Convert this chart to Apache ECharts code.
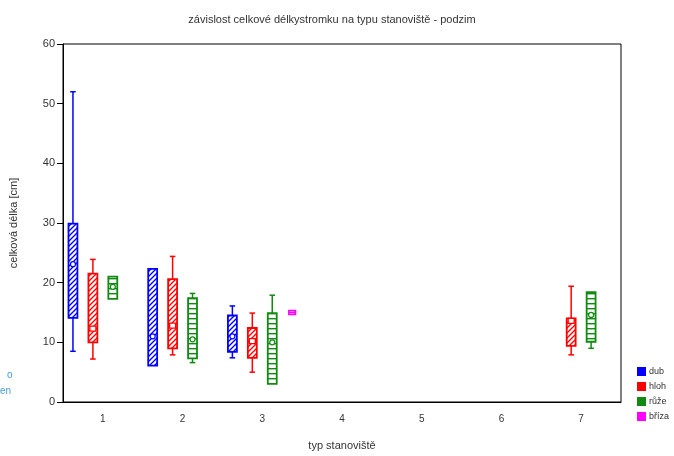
<!DOCTYPE html>
<html><head><meta charset="utf-8">
<script src="https://cdn.jsdelivr.net/npm/echarts@6/dist/echarts.min.js"></script>
<style>html,body{margin:0;padding:0;background:#fff}#c{width:674px;height:456px}</style>
</head><body><div id="c"></div>
<script>
// ---- data ----
const categories = ['1','2','3','4','5','6','7'];
const seriesNames = ['dub','hloh','růže','bříza'];
// each row: [categoryIndex, min, lowerBox, marker, upperBox, max]
const dub   = [[0, 8.5, 14.1, 23.1, 29.9, 52.0], [1, 6.1, 6.1, 11.0, 22.3, 22.3], [2, 7.4, 8.4, 11.0, 14.5, 16.1]];
const hloh  = [[0, 7.2, 10.0, 12.3, 21.5, 23.9], [1, 7.9, 9.0, 12.8, 20.6, 24.4], [2, 5.0, 7.4, 10.2, 12.4, 14.9], [6, 7.9, 9.4, 13.6, 14.0, 19.4]];
const ruze  = [[0, 17.3, 17.3, 19.3, 21.0, 21.0], [1, 6.6, 7.3, 10.5, 17.4, 18.2], [2, 3.0, 3.05, 10.0, 14.9, 17.9], [6, 9.0, 10.1, 14.6, 18.4, 18.4]];
const briza = [[2, 14.7, 14.7, 15.0, 15.3, 15.3]];
const yTicks = [0, 10, 20, 30, 40, 50, 60];

const colors = ['#0000ff', '#ff0000', '#108a10', '#ff00ff'];

function makePattern(color, kind) {
  const c = document.createElement('canvas');
  if (kind === 'diag') {
    c.width = 5; c.height = 5;
    const g = c.getContext('2d');
    g.fillStyle = '#fff'; g.fillRect(0, 0, 5, 5);
    g.strokeStyle = color; g.lineWidth = 1.4;
    g.beginPath();
    g.moveTo(-1, 6); g.lineTo(6, -1);
    g.moveTo(-1, 1); g.lineTo(1, -1);
    g.moveTo(4, 6); g.lineTo(6, 4);
    g.stroke();
  } else if (kind === 'horiz') {
    c.width = 4; c.height = 5;
    const g = c.getContext('2d');
    g.fillStyle = '#fff'; g.fillRect(0, 0, 4, 5);
    g.fillStyle = color; g.fillRect(0, 3, 4, 1.4);
  } else {
    c.width = 3; c.height = 3;
    const g = c.getContext('2d');
    g.fillStyle = '#fff'; g.fillRect(0, 0, 3, 3);
    g.fillStyle = color; g.fillRect(0, 0, 3, 1);
  }
  return { image: c, repeat: 'repeat' };
}

function makeRender(idx, color, pattern, marker) {
  return function (params, api) {
    const cat = api.value(0);
    const bw = api.size([1, 0])[0];
    const xc = api.coord([cat, 0])[0] + (idx - 1.5) * bw * 0.25;
    const yMin = api.coord([cat, api.value(1)])[1];
    const yQ1 = api.coord([cat, api.value(2)])[1];
    const yMk = api.coord([cat, api.value(3)])[1];
    const yQ3 = api.coord([cat, api.value(4)])[1];
    const yMax = api.coord([cat, api.value(5)])[1];
    const hw = idx === 3 ? bw * 0.04 : bw * 0.056;
    const cap = bw * 0.035;
    const ls = { stroke: color, lineWidth: 1.5, fill: null };
    const ch = [];
    if (yMax < yQ3 - 0.5) {
      ch.push({ type: 'line', shape: { x1: xc, y1: yMax, x2: xc, y2: yQ3 }, style: ls });
      ch.push({ type: 'line', shape: { x1: xc - cap, y1: yMax, x2: xc + cap, y2: yMax }, style: ls });
    }
    if (yMin > yQ1 + 0.5) {
      ch.push({ type: 'line', shape: { x1: xc, y1: yQ1, x2: xc, y2: yMin }, style: ls });
      ch.push({ type: 'line', shape: { x1: xc - cap, y1: yMin, x2: xc + cap, y2: yMin }, style: ls });
    }
    ch.push({ type: 'rect', shape: { x: xc - hw, y: yQ3, width: 2 * hw, height: Math.max(yQ1 - yQ3, 1) },
      style: { fill: pattern, stroke: color, lineWidth: 1.8 } });
    if (marker === 'circle') {
      ch.push({ type: 'circle', shape: { cx: xc, cy: yMk, r: 2.5 }, style: { fill: '#fff', stroke: color, lineWidth: 1.2 } });
    } else if (marker === 'square') {
      ch.push({ type: 'rect', shape: { x: xc - 3, y: yMk - 2.5, width: 6, height: 5 }, style: { fill: '#fff', stroke: color, lineWidth: 1.3 } });
    }
    return { type: 'group', children: ch };
  };
}

const seriesData = [dub, hloh, ruze, briza];
const patterns = [makePattern(colors[0], 'diag'), makePattern(colors[1], 'diag'), makePattern(colors[2], 'horiz'), makePattern(colors[3], 'top')];
const markers = ['circle', 'square', 'circle', 'none'];

const chart = echarts.init(document.getElementById('c'), null, { renderer: 'canvas' });
chart.setOption({
  animation: false,
  backgroundColor: '#fff',
  title: {
    text: 'závislost celkové délkystromku na typu stanoviště - podzim',
    left: 327, textAlign: 'center', top: 9,
    textStyle: { fontFamily: 'Liberation Sans, Arial', fontSize: 11, fontWeight: 'normal', color: '#333' }
  },
  legend: {
    orient: 'vertical', left: 632, top: 362, itemWidth: 9, itemHeight: 9, itemGap: 6,
    textStyle: { fontFamily: 'Liberation Sans, Arial', fontSize: 9, color: '#333', padding: [0, 0, 0, -2] },
    data: seriesNames.map((n, i) => ({ name: n, icon: 'rect', itemStyle: { color: colors[i], borderColor: colors[i] } }))
  },
  grid: { left: 62, right: 53, top: 44, bottom: 52, show: true, borderColor: '#000', borderWidth: 1, backgroundColor: 'transparent' },
  xAxis: {
    type: 'category', data: categories, boundaryGap: true,
    name: 'typ stanoviště', nameLocation: 'middle', nameGap: 38,
    nameTextStyle: { fontFamily: 'Liberation Sans, Arial', fontSize: 11, color: '#333' },
    axisLine: { lineStyle: { color: '#000', width: 1 } },
    axisTick: { alignWithLabel: true, length: 5, lineStyle: { color: '#000' } },
    axisLabel: { fontFamily: 'Liberation Sans, Arial', fontSize: 10, color: '#333', margin: 12 },
    splitLine: { show: false }
  },
  yAxis: {
    type: 'value', min: yTicks[0], max: yTicks[yTicks.length - 1], interval: 10,
    name: 'celková délka [cm]', nameLocation: 'middle', nameGap: 44, nameRotate: 90,
    nameTextStyle: { fontFamily: 'Liberation Sans, Arial', fontSize: 11, color: '#333' },
    axisLine: { show: true, lineStyle: { color: '#000', width: 1 } },
    axisTick: { show: true, length: 6, lineStyle: { color: '#000' } },
    axisLabel: { fontFamily: 'Liberation Sans, Arial', fontSize: 11, color: '#333', margin: 8 },
    splitLine: { show: false }
  },
  graphic: [
    { type: 'text', left: 7, top: 370, style: { text: 'o', fontSize: 10, fill: '#4a9ad8', fontFamily: 'Liberation Sans' } },
    { type: 'text', left: 0, top: 386, style: { text: 'en', fontSize: 10, fill: '#4a9ad8', fontFamily: 'Liberation Sans' } }
  ],
  series: seriesData.map((d, i) => ({
    type: 'custom', name: seriesNames[i],
    itemStyle: { color: colors[i] },
    renderItem: makeRender(i, colors[i], patterns[i], markers[i]),
    encode: { x: 0, y: [1, 2, 3, 4, 5] },
    data: d
  }))
});
</script>
</body></html>
